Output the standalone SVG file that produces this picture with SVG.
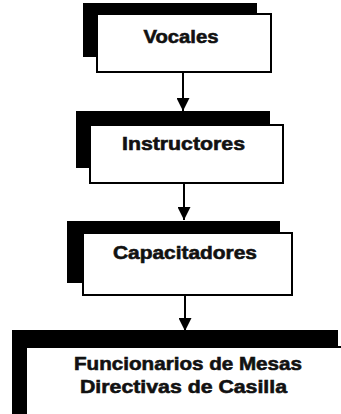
<svg xmlns="http://www.w3.org/2000/svg" width="341" height="414" viewBox="0 0 341 414">
  <style>
    .shadow { fill: #000; }
    .front { fill: #fff; stroke: #000; stroke-width: 2; }
    .label { font-family: "Liberation Sans", Arial, sans-serif; font-weight: 700; font-size: 19px; fill: #111; stroke: #111; stroke-width: 0.6; text-anchor: middle; }
    .conn { stroke: #000; stroke-width: 2; fill: none; }
  </style>
  <defs>
    <marker id="arrow" markerUnits="userSpaceOnUse" markerWidth="13" markerHeight="13" viewBox="0 0 13 13" refX="13" refY="6.5" orient="auto">
      <path d="M0,0 L13,6.5 L0,13 Z" fill="#000"/>
    </marker>
  </defs>
  <rect width="341" height="414" fill="#fff"/>

  <g id="connectors">
    <line class="conn" x1="183" y1="72" x2="183" y2="111" marker-end="url(#arrow)"/>
    <line class="conn" x1="184" y1="183" x2="184" y2="220" marker-end="url(#arrow)"/>
    <line class="conn" x1="185" y1="295" x2="185" y2="331" marker-end="url(#arrow)"/>
  </g>

  <g id="vocales">
    <rect class="shadow" x="83" y="3" width="174" height="54"/>
    <rect class="front" x="97" y="14" width="174" height="58"/>
    <text class="label" x="181" y="43" textLength="75" lengthAdjust="spacingAndGlyphs">Vocales</text>
  </g>

  <g id="instructores">
    <rect class="shadow" x="76" y="111" width="194" height="57"/>
    <rect class="front" x="90" y="125" width="193" height="58"/>
    <text class="label" x="183.5" y="150" textLength="123" lengthAdjust="spacingAndGlyphs">Instructores</text>
  </g>

  <g id="capacitadores">
    <rect class="shadow" x="67" y="221" width="213" height="62"/>
    <rect class="front" x="83" y="233" width="209" height="62"/>
    <text class="label" x="185" y="259" textLength="144" lengthAdjust="spacingAndGlyphs">Capacitadores</text>
  </g>

  <g id="funcionarios">
    <rect class="shadow" x="12" y="330" width="326" height="90"/>
    <rect class="front" x="26" y="347" width="330" height="80"/>
    <text class="label" x="188" y="370" textLength="228" lengthAdjust="spacingAndGlyphs">Funcionarios de Mesas</text>
    <text class="label" x="183.5" y="393" textLength="207" lengthAdjust="spacingAndGlyphs">Directivas de Casilla</text>
  </g>
</svg>
